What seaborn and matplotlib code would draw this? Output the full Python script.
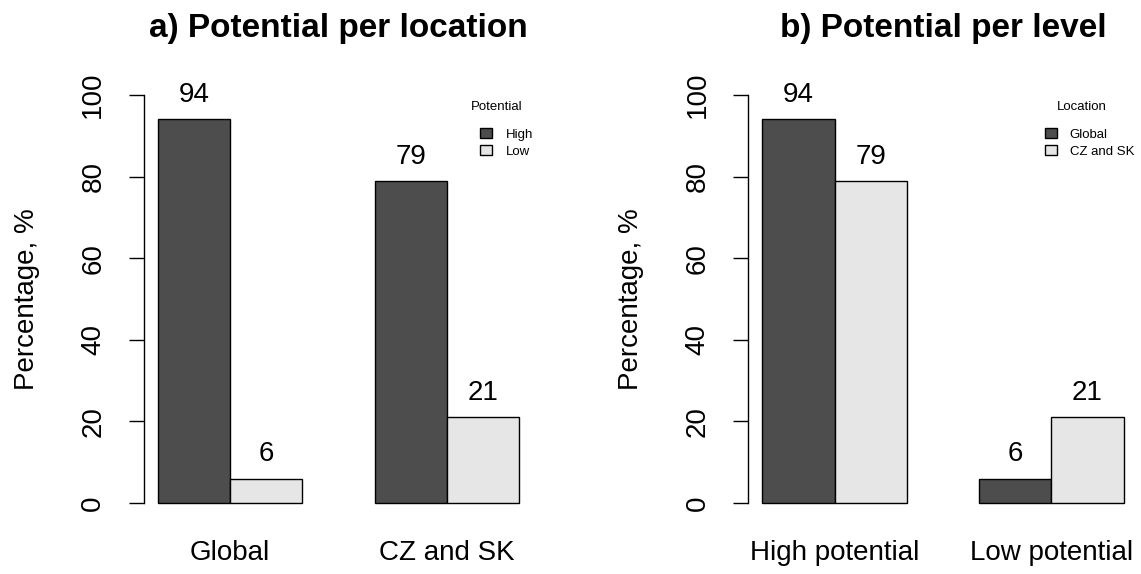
import seaborn as sns
import matplotlib.pyplot as plt
import pandas as pd

sns.set_theme(style="white")
plt.rcParams['font.family'] = ['Liberation Sans', 'DejaVu Sans']
plt.rcParams['text.color'] = 'black'
plt.rcParams['axes.labelcolor'] = 'black'
plt.rcParams['xtick.color'] = 'black'
plt.rcParams['ytick.color'] = 'black'

# --- data ---
locations = ["Global", "CZ and SK"]
levels = ["High", "Low"]
level_names = ["High potential", "Low potential"]
high_pct = [94, 79]   # high potential per location
low_pct = [6, 21]     # low potential per location

df = pd.DataFrame({
    "location": locations * 2,
    "level": ["High"] * 2 + ["Low"] * 2,
    "level_name": [level_names[0]] * 2 + [level_names[1]] * 2,
    "pct": high_pct + low_pct,
})

colors = ["#4d4d4d", "#e6e6e6"]

fig = plt.figure(figsize=(11.41, 5.74), dpi=100)
ax1 = fig.add_axes([0.1258, 0.0953, 0.3418, 0.7676])
ax2 = fig.add_axes([0.6556, 0.0953, 0.3418, 0.7676])


def draw(ax, x, hue, order, hue_order, title, leg_title, leg_x, title_x):
    sns.barplot(data=df, x=x, y="pct", hue=hue, order=order, hue_order=hue_order,
                palette=colors, saturation=1, width=2/3, gap=0,
                edgecolor="black", linewidth=1.0, errorbar=None, ax=ax)
    for c in ax.containers:
        ax.bar_label(c, fmt="%d", padding=8, fontsize=20)
    ax.set_xlim(-0.4, 1.4)
    ax.set_ylim(-4, 104)
    ax.set_yticks([0, 20, 40, 60, 80, 100])
    for s in ["top", "right", "bottom"]:
        ax.spines[s].set_visible(False)
    ax.spines["left"].set_bounds(0, 100)
    ax.spines["left"].set_linewidth(1.0)
    ax.spines["left"].set_color("black")
    ax.tick_params(axis="y", left=True, length=10.8, width=1.0,
                   labelsize=20, labelrotation=90, pad=16)
    for lab in ax.get_yticklabels():
        lab.set_va("center")
    ax.tick_params(axis="x", length=0, labelsize=20, pad=15)
    ax.set_xlabel("")
    ax.set_ylabel("")
    ax.text(-0.30, 0.5, "Percentage, %", transform=ax.transAxes, rotation=90,
            ha="center", va="center", fontsize=20)
    ax.set_title(title, fontsize=24, fontweight="bold", pad=30)
    handles, labels = ax.get_legend_handles_labels()
    ax.legend(handles, labels, loc="upper left",
              bbox_to_anchor=(leg_x, 0.902), frameon=False, fontsize=9.5,
              borderpad=0, handlelength=0.9, handleheight=0.75,
              handletextpad=1.0, labelspacing=0.32)
    ax.text(title_x, 0.936, leg_title, transform=ax.transAxes,
            ha="center", va="center", fontsize=9.5)


draw(ax1, "location", "level", locations, levels,
     "a) Potential per location", "Potential", 0.847, 0.906)
draw(ax2, "level_name", "location", level_names, locations,
     "b) Potential per level", "Location", 0.744, 0.856)

fig.savefig("out.png", dpi=100)
